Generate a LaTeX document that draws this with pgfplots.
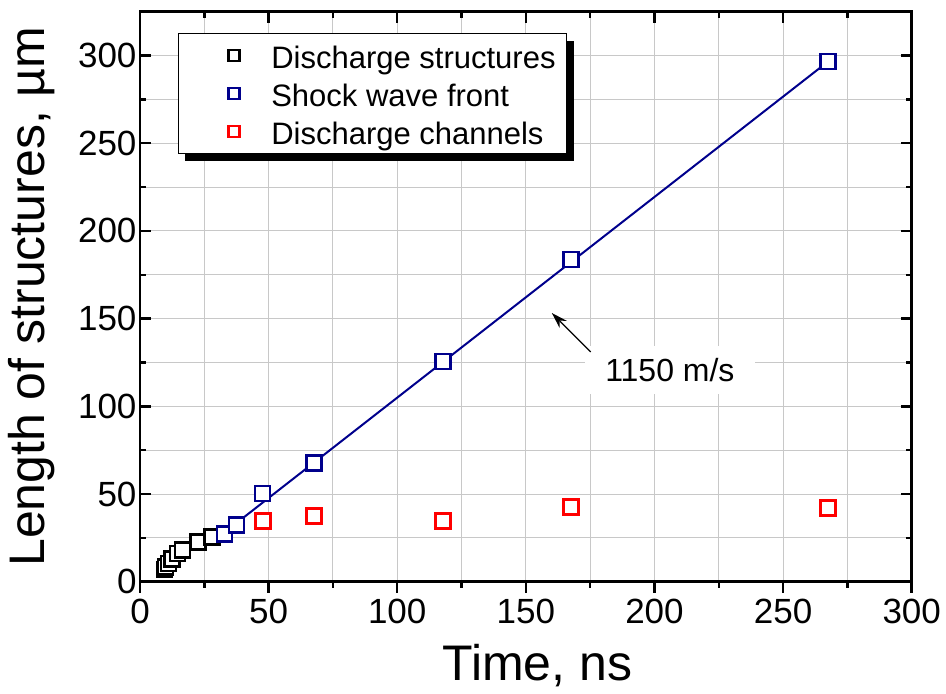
\documentclass[border=0pt]{standalone}
\usepackage{pgfplots}
\pgfplotsset{compat=1.18}
\usepackage{fontspec}
\setmainfont{Liberation Sans}
\usetikzlibrary{shadows,calc,arrows.meta}
\definecolor{navy}{RGB}{0,0,140}
\definecolor{gridgray}{RGB}{200,200,200}

\pgfplotsset{myax/.style={
  scale only axis, width=771.7pt, height=570pt,
  xmin=0, xmax=300, ymin=0, ymax=325,
  xtick={0,50,...,300}, minor xtick={25,75,...,275},
  ytick={0,50,...,300}, minor ytick={25,75,...,325},
  axis line style={line width=2.5pt},
  major tick length=11pt, minor tick length=6pt,
  every tick/.style={line width=2.5pt, black},
  /pgf/number format/assume math mode=true,
  tick label style={font=\fontsize{35}{35}\selectfont},
  label style={font=\fontsize{50}{50}\selectfont},
}}

\begin{document}
\begin{tikzpicture}
\begin{axis}[myax, name=ax,
  grid=both, major grid style={line width=1pt, gridgray}, minor grid style={line width=1pt, gridgray},
  xtick pos=bottom, xtick align=outside,
  ytick pos=both, ytick align=inside,
  xticklabel style={yshift=-3pt},
  xlabel={Time, ns},
  ylabel={Length of structures, µm},
  xlabel style={at={(axis description cs:0.515,-0.148)}, anchor=center},
  ylabel style={at={(axis description cs:-0.141,0.5)}, anchor=center},
  legend cell align=left,
  legend style={at={(0.049,0.9626)}, anchor=north west, draw=black, line width=1pt, fill=white,
    drop shadow={shadow xshift=7pt, shadow yshift=-7pt, fill=black, opacity=1},
    font=\fontsize{31}{31}\selectfont,
    nodes={inner sep=4pt, text height=28pt, text depth=2pt},
    inner xsep=50pt, inner ysep=3pt, row sep=0pt,
    /tikz/every odd column/.append style={column sep=28pt}},
  legend image code/.code={\draw[#1, mark size=5.5pt, line width=2.5pt] plot coordinates {(0pt,0pt)};},
]
\addplot[only marks, mark=square*, mark size=7.5pt, line width=2.5pt, draw=black, fill=white] coordinates {
 (9.5,7) (10,8.5) (11,10.5) (12.5,13) (14.5,16) (16.5,18) (22.5,22.5) (28,25.5)
};
\addlegendentry{Discharge structures\kern-43pt}
\addplot[only marks, mark=square*, mark size=7.5pt, line width=2.5pt, draw=navy, fill=white] coordinates {
 (32.8,27.2) (37.6,32.3) (47.7,50.4) (67.7,67.6) (117.8,125.6) (167.5,183.7) (267.5,296.6)
};
\addlegendentry{Shock wave front}
\addplot[only marks, mark=square*, mark size=7.5pt, line width=2.5pt, draw=red, fill=white] coordinates {
 (47.8,34.6) (67.7,37.4) (117.8,34.6) (167.5,42.6) (267.5,42.0)
};
\addlegendentry{Discharge channels\kern-31pt}
\addplot[navy, line width=2pt, forget plot] coordinates {(32.4,27.6) (267.5,296.6)};
\node[fill=white, inner xsep=20pt, inner ysep=12pt, font=\fontsize{32}{32}\selectfont] at (axis cs:206,120.6) {1150 m/s};
\draw[-{Stealth[length=16pt,width=10pt]}, line width=1.2pt] (axis cs:175.2,131.0) -- (axis cs:160.1,153.2);
\end{axis}
\begin{axis}[myax,
  xtick pos=top, xtick align=inside, xticklabels={},
  ytick=\empty, minor ytick={},
]
\addplot[draw=none, forget plot] coordinates {(0,0)};
\end{axis}
\pgfresetboundingbox
\path[use as bounding box] ($(ax.south west)+(-140pt,-111.3pt)$) rectangle ($(ax.north east)+(34.3pt,11.7pt)$);
\end{tikzpicture}
\end{document}
